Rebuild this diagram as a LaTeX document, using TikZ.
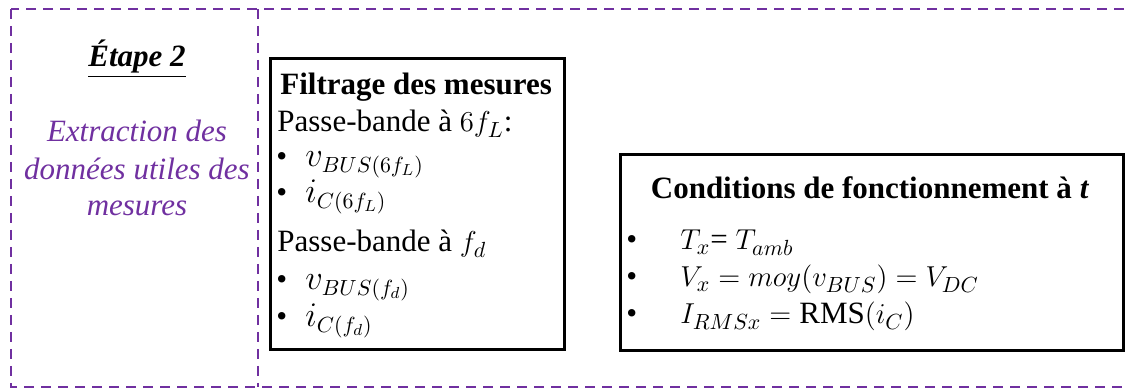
\documentclass[tikz,border=0pt]{standalone}
\usepackage{fontspec}
\setmainfont{Liberation Serif}
\usetikzlibrary{positioning}
\definecolor{stagePurple}{HTML}{7030A0}

\begin{document}
\begin{tikzpicture}[x=0.5pt,y=-0.5pt]
\tikzstyle{frame}=[draw=stagePurple,line width=1.2pt,dash pattern=on 5pt off 3.5pt]
\tikzstyle{panel}=[draw=black,line width=1.3pt,inner sep=0pt,anchor=north west]
\tikzstyle{txt}=[inner sep=0pt,anchor=base west,font=\fontsize{15.5}{18}\selectfont]
\tikzstyle{ctxt}=[txt,anchor=base]
\tikzstyle{mtxt}=[txt,font=\fontsize{16}{18}\selectfont]
\useasboundingbox (0,0) rectangle (1129,389);
% stage frame
\draw[frame] (11,9) rectangle (1150,387);
\draw[frame] (258,9) -- (258,387);
% left column
\node[ctxt] (etape) at (137,67) {\textbf{\textit{\underline{Étape 2}}}};
\node[ctxt,text=stagePurple] (ext1) at (137,142) {\textit{Extraction des}};
\node[ctxt,text=stagePurple] (ext2) at (137,180) {\textit{données utiles des}};
\node[ctxt,text=stagePurple] (ext3) at (137,216) {\textit{mesures}};
% filtrage
\node[panel,minimum width=147pt,minimum height=145.5pt] (filtrage) at (269,57) {};
\node[txt] (filtitle) at (280,95) {\textbf{Filtrage des mesures}};
\node[txt] (pb1) at (277,132) {Passe-bande à $6f_L$:};
\node[txt] (pb2) at (277,252) {Passe-bande à $f_d$};
\foreach \y/\n in {167/b1,203/b2,290/b3,327/b4}
  \node[txt] (\n) at (276,\y) {\textbullet};
\node[mtxt] (vbus6) at (305,167) {$v_{BUS(6f_L)}$};
\node[mtxt] (ic6) at (305,203) {$i_{C(6f_L)}$};
\node[mtxt] (vbusd) at (305,290) {$v_{BUS(f_d)}$};
\node[mtxt] (icd) at (305,327) {$i_{C(f_d)}$};
% conditions
\node[panel,minimum width=251.5pt,minimum height=98pt] (cond) at (619,153) {};
\node[ctxt] (condtitle) at (870,199) {\textbf{Conditions de fonctionnement à \textit{t}}};
\foreach \y/\n in {250/c1,287/c2,324/c3}
  \node[txt] (\n) at (626,\y) {\textbullet};
\node[txt] (tx) at (680,250) {$T_x$= $T_{amb}$};
\node[txt] (vx) at (680,287) {$V_x = moy(v_{BUS}) = V_{DC}$};
\node[txt] (irms) at (680,324) {$I_{RMSx} = \textrm{RMS}(i_C)$};
\end{tikzpicture}
\end{document}
